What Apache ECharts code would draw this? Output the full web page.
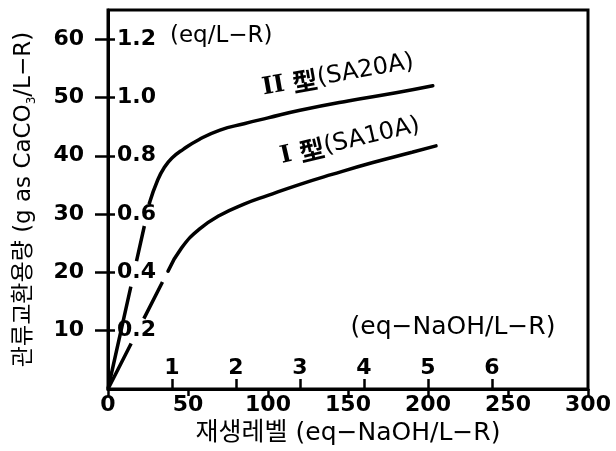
<!DOCTYPE html>
<html><head><meta charset="utf-8">
<script src="https://cdn.jsdelivr.net/npm/echarts@6/dist/echarts.min.js"></script>
<style>html,body{margin:0;padding:0;background:#fff}#c{width:616px;height:451px}</style>
</head><body><div id="c"></div>
<script>
// Regeneration level (g NaOH / L-R) axis
const xMin = 0, xMax = 300, xStep = 50;
// Secondary regeneration axis (eq-NaOH / L-R)
const gPerEqNaOH = 40;
const eqNaOHLabels = [1, 2, 3, 4, 5, 6];
// Capacity axis (g as CaCO3 / L-R)
const yMin = 0, yMax = 65, yStep = 10;
const capLabels = [10, 20, 30, 40, 50, 60];
// Secondary capacity axis (eq / L-R)
const gPerEqCaCO3 = 50;
const eqCapLabels = [0.2, 0.4, 0.6, 0.8, 1.0, 1.2];

// Type II (SA20A)
const typeIIDashed = [[0, 0], [26, 32]];
const typeIISolid = [[26, 32], [31, 35.8], [35, 37.9], [40, 39.6], [47, 41.1], [57, 42.8], [70, 44.4], [85, 45.5], [100, 46.5], [120, 47.8], [150, 49.4], [180, 50.8], [203, 52.0]];
// Type I (SA10A)
const typeIDashed = [[0, 0], [37.5, 20.2]];
const typeISolid = [[37.5, 20.2], [46, 24.2], [57.5, 27.5], [70, 29.8], [85, 31.7], [100, 33.2], [120, 35.1], [140, 36.8], [165, 38.8], [190, 40.6], [205, 41.7]];

const numFont = { color: '#000', fontFamily: 'DejaVu Sans', fontWeight: 'bold', fontSize: 22 };
const txtFont = "'DejaVu Sans','Noto Sans CJK KR'";

const chart = echarts.init(document.getElementById('c'), null, { renderer: 'canvas' });
const lineBase = { type: 'line', showSymbol: false, symbol: 'none', silent: true, xAxisIndex: 0, yAxisIndex: 0 };
chart.setOption({
  animation: false,
  backgroundColor: '#fff',
  grid: { left: 108, right: 28, top: 10, bottom: 61, show: true, borderColor: '#000', borderWidth: 3, backgroundColor: 'transparent' },
  xAxis: [
    {
      type: 'value', min: xMin, max: xMax, interval: xStep, position: 'bottom',
      axisLine: { show: true, lineStyle: { color: '#000', width: 3 } },
      axisTick: { show: true, length: 7, lineStyle: { color: '#000', width: 2.5 } },
      axisLabel: Object.assign({ margin: 5 }, numFont),
      splitLine: { show: false },
      name: '재생레벨 (eq−NaOH/L−R)', nameLocation: 'middle', nameGap: 32,
      nameTextStyle: { color: '#000', fontFamily: txtFont, fontSize: 25 }
    },
    {
      type: 'value', min: 0, max: xMax / gPerEqNaOH, interval: 1, position: 'bottom', offset: 0,
      axisLine: { show: false },
      axisTick: { show: true, inside: true, length: 10, customValues: eqNaOHLabels, lineStyle: { color: '#000', width: 2.5 } },
      axisLabel: Object.assign({ inside: true, margin: 10, customValues: eqNaOHLabels, formatter: v => String(Math.round(v)) }, numFont),
      splitLine: { show: false }
    }
  ],
  yAxis: [
    {
      type: 'value', min: yMin, max: yMax, interval: yStep, position: 'left',
      axisLine: { show: true, lineStyle: { color: '#000', width: 3 } },
      axisTick: { show: true, length: 13, customValues: capLabels, lineStyle: { color: '#000', width: 2.5 } },
      axisLabel: Object.assign({ margin: 24, customValues: capLabels, formatter: v => String(v) }, numFont),
      splitLine: { show: false },
      name: '{a|관류교환용량 (g as CaCO}{s|3}{a|/L−R)}', nameLocation: 'middle', nameRotate: 90, nameGap: 70,
      nameTextStyle: {
        color: '#000', fontFamily: txtFont, fontSize: 23,
        rich: {
          a: { color: '#000', fontFamily: txtFont, fontSize: 23, lineHeight: 28 },
          s: { color: '#000', fontFamily: txtFont, fontSize: 12, lineHeight: 28, verticalAlign: 'bottom' }
        }
      }
    },
    {
      type: 'value', min: 0, max: yMax / gPerEqCaCO3, interval: 0.2, position: 'left', offset: 0,
      axisLine: { show: false },
      axisTick: { show: true, inside: true, length: 7, customValues: eqCapLabels, lineStyle: { color: '#000', width: 2.5 } },
      axisLabel: Object.assign({ inside: true, margin: 9, customValues: eqCapLabels, formatter: v => v.toFixed(1) }, numFont),
      splitLine: { show: false }
    }
  ],
  series: [
    Object.assign({}, lineBase, { name: 'II dashed', data: typeIIDashed, lineStyle: { color: '#000', width: 3.5, type: [105, 26, 36, 22], cap: 'butt' } }),
    Object.assign({}, lineBase, { name: 'II型(SA20A)', data: typeIISolid, smooth: 0.5, lineStyle: { color: '#000', width: 3.5, cap: 'round' } }),
    Object.assign({}, lineBase, { name: 'I dashed', data: typeIDashed, lineStyle: { color: '#000', width: 3.5, type: [51, 28, 41, 12], cap: 'butt' } }),
    Object.assign({}, lineBase, { name: 'I型(SA10A)', data: typeISolid, smooth: 0.5, lineStyle: { color: '#000', width: 3.5, cap: 'round' } })
  ],
  graphic: [
    { type: 'text', x: 170, y: 36, style: { text: '(eq/L−R)', fill: '#000', font: "23px 'DejaVu Sans'", align: 'left', verticalAlign: 'middle' } },
    { type: 'text', x: 453, y: 327, style: { text: '(eq−NaOH/L−R)', fill: '#000', font: "25px 'DejaVu Sans'", align: 'center', verticalAlign: 'middle' } },
    { type: 'text', x: 338, y: 75, rotation: 10 * Math.PI / 180, style: {
        text: '{r|II }{c|型}{t|(SA20A)}', align: 'center', verticalAlign: 'middle', fill: '#000',
        rich: { r: { fontFamily: 'DejaVu Serif', fontWeight: 'bold', fontSize: 24, fill: '#000' }, c: { fontFamily: 'Noto Sans CJK KR', fontWeight: 'bold', fontSize: 25, fill: '#000' }, t: { fontFamily: 'DejaVu Sans', fontSize: 24, fill: '#000' } } } },
    { type: 'text', x: 350, y: 141, rotation: 13 * Math.PI / 180, style: {
        text: '{r|I }{c|型}{t|(SA10A)}', align: 'center', verticalAlign: 'middle', fill: '#000',
        rich: { r: { fontFamily: 'DejaVu Serif', fontWeight: 'bold', fontSize: 24, fill: '#000' }, c: { fontFamily: 'Noto Sans CJK KR', fontWeight: 'bold', fontSize: 25, fill: '#000' }, t: { fontFamily: 'DejaVu Sans', fontSize: 24, fill: '#000' } } } }
  ]
});
</script></body></html>
